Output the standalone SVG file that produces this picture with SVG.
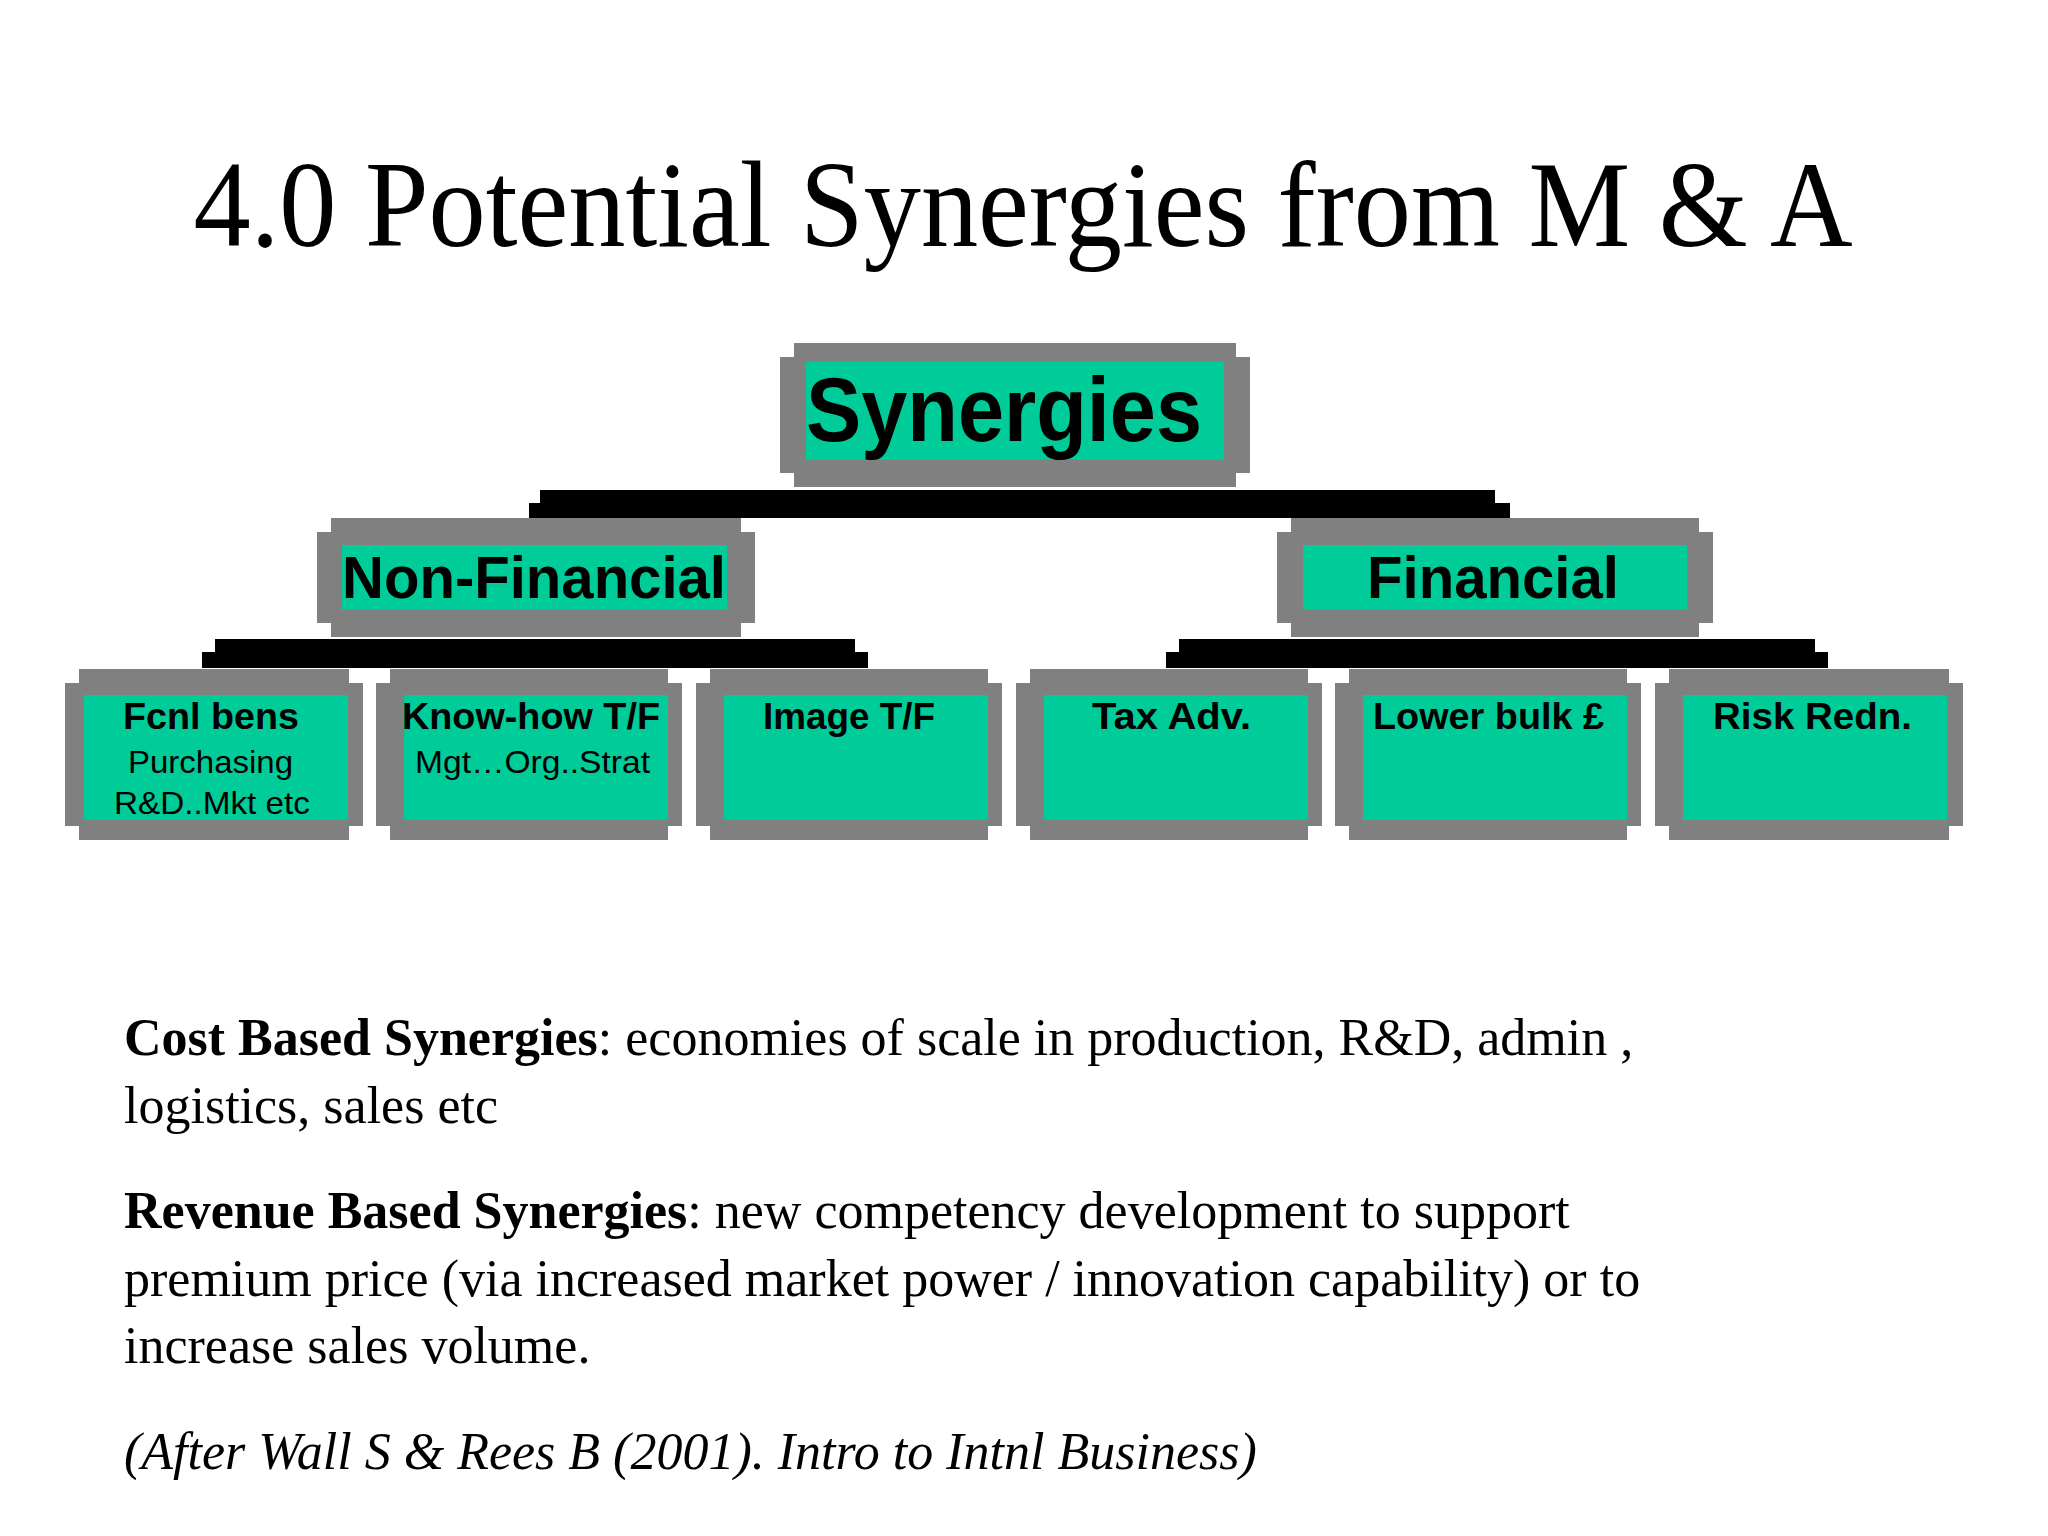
<svg xmlns="http://www.w3.org/2000/svg" width="2048" height="1536" viewBox="0 0 2048 1536">
<style>
.g{fill:#808080}.gr{fill:#00CC99}.b{fill:#000}
.lab{font-family:"Liberation Sans",Arial,sans-serif;font-weight:bold;fill:#000}
.sub{font-family:"Liberation Sans",Arial,sans-serif;fill:#000}
.body{font-family:"Liberation Serif","Times New Roman",serif;font-size:52px;fill:#000}
</style>
<rect width="2048" height="1536" fill="#fff"/>
<text x="1023" y="246" text-anchor="middle" font-family="Liberation Serif, serif" font-size="122" textLength="1659" lengthAdjust="spacingAndGlyphs">4.0 Potential Synergies from M &amp; A</text>
<g id="connectors">
<rect class="b" x="540" y="490" width="955" height="26"/>
<rect class="b" x="529" y="503" width="981" height="15"/>
<rect class="b" x="215" y="639" width="640" height="27"/>
<rect class="b" x="202" y="652" width="666" height="16"/>
<rect class="b" x="1179" y="639" width="636" height="27"/>
<rect class="b" x="1166" y="652" width="662" height="16"/>
</g>
<g id="synergies">
<rect class="g" x="780" y="357" width="470" height="116"/><rect class="g" x="794" y="343" width="442" height="144"/>
<rect class="gr" x="806" y="362" width="418" height="98"/>
<text class="lab" x="806" y="441" font-size="90" textLength="396" lengthAdjust="spacingAndGlyphs">Synergies</text>
</g>
<g id="nonfinancial">
<rect class="g" x="317" y="532" width="438" height="91"/><rect class="g" x="331" y="518" width="410" height="119"/>
<rect class="gr" x="342" y="545" width="385" height="65"/>
<text class="lab" x="342" y="598" font-size="60" textLength="384" lengthAdjust="spacingAndGlyphs">Non-Financial</text>
</g>
<g id="financial">
<rect class="g" x="1277" y="532" width="436" height="91"/><rect class="g" x="1291" y="518" width="408" height="119"/>
<rect class="gr" x="1303" y="545" width="384" height="65"/>
<text class="lab" x="1367" y="598" font-size="60" textLength="252" lengthAdjust="spacingAndGlyphs">Financial</text>
</g>
<g id="fcnl">
<rect class="g" x="65" y="683" width="298" height="143"/><rect class="g" x="79" y="669" width="270" height="171"/>
<rect class="gr" x="84" y="695" width="264" height="125"/>
<text class="lab" x="123" y="729" font-size="36" textLength="176" lengthAdjust="spacingAndGlyphs">Fcnl bens</text>
<text class="sub" x="128" y="773" font-size="32" textLength="165" lengthAdjust="spacingAndGlyphs">Purchasing</text>
<text class="sub" x="114" y="814" font-size="32" textLength="196" lengthAdjust="spacingAndGlyphs">R&amp;D..Mkt etc</text>
</g>
<g id="knowhow">
<rect class="g" x="376" y="683" width="306" height="143"/><rect class="g" x="390" y="669" width="278" height="171"/>
<rect class="gr" x="404" y="695" width="264" height="125"/>
<text class="lab" x="402" y="729" font-size="36" textLength="258" lengthAdjust="spacingAndGlyphs">Know-how T/F</text>
<text class="sub" x="415" y="773" font-size="32" textLength="235" lengthAdjust="spacingAndGlyphs">Mgt…Org..Strat</text>
</g>
<g id="image">
<rect class="g" x="696" y="683" width="306" height="143"/><rect class="g" x="710" y="669" width="278" height="171"/>
<rect class="gr" x="724" y="695" width="264" height="125"/>
<text class="lab" x="763" y="729" font-size="36" textLength="172" lengthAdjust="spacingAndGlyphs">Image T/F</text>
</g>
<g id="tax">
<rect class="g" x="1016" y="683" width="306" height="143"/><rect class="g" x="1030" y="669" width="278" height="171"/>
<rect class="gr" x="1044" y="695" width="264" height="125"/>
<text class="lab" x="1092" y="729" font-size="36" textLength="159" lengthAdjust="spacingAndGlyphs">Tax Adv.</text>
</g>
<g id="lowerbulk">
<rect class="g" x="1335" y="683" width="306" height="143"/><rect class="g" x="1349" y="669" width="278" height="171"/>
<rect class="gr" x="1363" y="695" width="264" height="125"/>
<text class="lab" x="1373" y="729" font-size="36" textLength="231" lengthAdjust="spacingAndGlyphs">Lower bulk £</text>
</g>
<g id="risk">
<rect class="g" x="1655" y="683" width="308" height="143"/><rect class="g" x="1669" y="669" width="280" height="171"/>
<rect class="gr" x="1683" y="695" width="264" height="125"/>
<text class="lab" x="1713" y="729" font-size="36" textLength="199" lengthAdjust="spacingAndGlyphs">Risk Redn.</text>
</g>
<text class="body" x="124" y="1055"><tspan font-weight="bold">Cost Based Synergies</tspan>: economies of scale in production, R&amp;D, admin ,</text>
<text class="body" x="124" y="1123">logistics, sales etc</text>
<text class="body" x="124" y="1228"><tspan font-weight="bold">Revenue Based Synergies</tspan>: new competency development to support</text>
<text class="body" x="124" y="1296">premium price (via increased market power / innovation capability) or to</text>
<text class="body" x="124" y="1363">increase sales volume.</text>
<text class="body" x="124" y="1469" font-style="italic">(After Wall S &amp; Rees B (2001). Intro to Intnl Business)</text>
</svg>
